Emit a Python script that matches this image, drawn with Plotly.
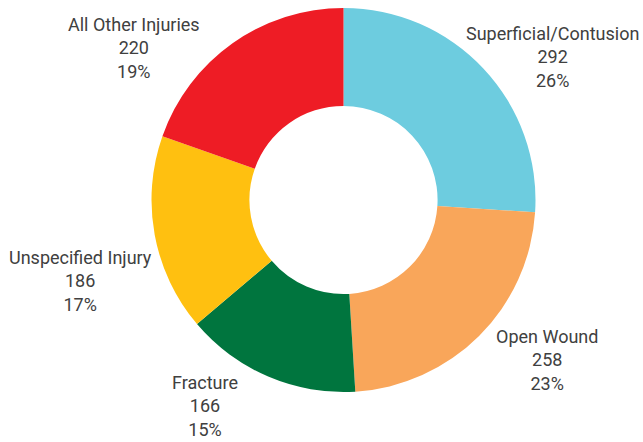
import math
import plotly.graph_objects as go

categories = ["Superficial/Contusion", "Open Wound", "Fracture", "Unspecified Injury", "All Other Injuries"]
values = [292, 258, 166, 186, 220]
percent_labels = ["26%", "23%", "15%", "17%", "19%"]
colors = ["#6DCCDF", "#F9A65A", "#00753E", "#FFC010", "#EE1C25"]

# label placement (layout only): angular shift in degrees and distance from centre in px
label_angle_shift = [8.8, -6.9, 10.9, -6.7, -18.8]
label_dist = [253, 259, 248, 275, 259]

W, H = 643, 442
cx, cy, R = 343.5, 200, 192
FONT = "Roboto, sans-serif"
FS = 18

fig = go.Figure(go.Pie(
    labels=categories, values=values, marker=dict(colors=colors, line=dict(width=0)),
    hole=0.49, sort=False, direction="clockwise", rotation=0,
    textinfo="none", hoverinfo="label+value", showlegend=False,
    domain=dict(x=[(cx - R) / W, (cx + R) / W], y=[(H - cy - R) / H, (H - cy + R) / H]),
))

total = sum(values)
cum = 0
annotations = []
for cat, v, p, sh, d in zip(categories, values, percent_labels, label_angle_shift, label_dist):
    mid = (cum + v / 2) / total * 2 * math.pi + math.radians(sh)
    cum += v
    sx, sy = math.sin(mid), -math.cos(mid)
    px, py = cx + sx * d, cy + sy * d
    annotations.append(dict(
        x=px / W, y=1 - py / H, xref="paper", yref="paper", xanchor="center", yanchor="middle",
        text=f"{cat}<br>{v}<br>{p}", showarrow=False, align="center",
        font=dict(family=FONT, size=FS, color="#404040"),
    ))

fig.update_layout(
    width=W, height=H, margin=dict(l=0, r=0, t=0, b=0),
    paper_bgcolor="white", plot_bgcolor="white", annotations=annotations,
)
fig.write_html("out.html", config={"displayModeBar": False},
               post_script="document.body.style.margin='0';")
